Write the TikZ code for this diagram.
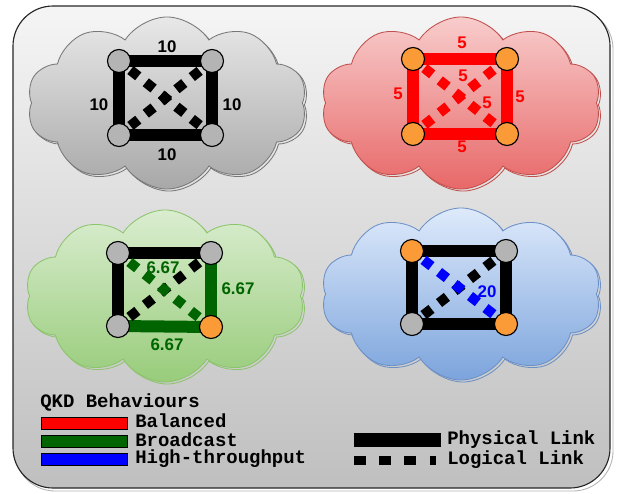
\documentclass[tikz,border=0pt]{standalone}
\usepackage{fontspec}
\usetikzlibrary{shapes.symbols}
\newfontfamily\labfont{Liberation Sans}
\newfontfamily\legfont{Liberation Mono}
\definecolor{nodegrey}{RGB}{180,180,180}
\definecolor{nodeorange}{RGB}{250,155,55}
\definecolor{qkdgreen}{RGB}{0,100,0}
\definecolor{lineGrey}{RGB}{120,120,120}
\definecolor{topGrey}{RGB}{232,232,232}
\definecolor{botGrey}{RGB}{168,168,168}
\definecolor{lineRed}{RGB}{192,80,77}
\definecolor{topRed}{RGB}{248,204,204}
\definecolor{botRed}{RGB}{232,104,104}
\definecolor{lineGreen}{RGB}{140,196,108}
\definecolor{topGreen}{RGB}{218,237,208}
\definecolor{botGreen}{RGB}{152,204,122}
\definecolor{lineBlue}{RGB}{108,144,198}
\definecolor{topBlue}{RGB}{222,234,251}
\definecolor{botBlue}{RGB}{124,164,220}
\pgfdeclarelayer{clouds}
\pgfdeclarelayer{links}
\pgfsetlayers{clouds,links,main}

\begin{document}
\begin{tikzpicture}[x=0.025cm, y=-0.025cm,
    cloudbox/.style={cloud, cloud puffs=10, cloud puff arc=115, aspect=1.6,
      minimum width=7cm, minimum height=4.3cm, line width=0.6pt},
    qnode/.style={circle, draw, line width=0.8pt, minimum size=0.575cm,
      inner sep=0pt, fill=nodegrey},
    qhot/.style={qnode, fill=nodeorange},
    physical/.style={line width=0.3cm},
    logical/.style={line width=0.25cm, dash pattern=on 0.25cm off 0.24cm, dash phase=0.125cm},
    lab/.style={font={\labfont\bfseries\fontsize{12}{14}\selectfont}, inner sep=0pt},
    leg/.style={font={\legfont\bfseries\fontsize{13.5}{16}\selectfont}, anchor=west, inner sep=0pt},
    legkey/.style={draw, line width=0.6pt, minimum width=2.15cm, minimum height=0.3cm, inner sep=0pt}]
  \useasboundingbox (0,0) rectangle (623,493);

  \begin{pgfonlayer}{clouds}
    \draw[gray!60, line width=0.6pt, rounded corners=1cm] (15,9) rectangle (613,491);
    \draw[gray!30!black, line width=0.8pt, rounded corners=1cm, top color=gray!8,
      bottom color=gray!50] (13,6) rectangle (610,488);
    \foreach \cname/\cx/\cy in {Grey/167/103, Red/461/103, Green/165/296, Blue/461/294}{
      \node[cloudbox, draw=line\cname] at (\cx+2,\cy+2) {};
      \node[cloudbox, draw=line\cname, top color=top\cname, bottom color=bot\cname]
        (cloud\cname) at (\cx,\cy) {};
    }
  \end{pgfonlayer}

  % grey cloud
  \node[qnode] (g1) at (119,61) {};
  \node[qnode] (g2) at (212,61) {};
  \node[qnode] (g3) at (119,135) {};
  \node[qnode] (g4) at (212,135) {};
  \node[lab] (gTop) at (167,47) {10};
  \node[lab] (gLeft) at (99,105) {10};
  \node[lab] (gRight) at (232,105) {10};
  \node[lab] (gBottom) at (167,155) {10};

  % red cloud
  \node[qhot] (r1) at (413,59) {};
  \node[qhot] (r2) at (507,59) {};
  \node[qhot] (r3) at (413,134) {};
  \node[qhot] (r4) at (507,134) {};
  \node[lab, red] (rTop) at (462,43) {5};
  \node[lab, red] (rLeft) at (398,94) {5};
  \node[lab, red] (rRight) at (520,97) {5};
  \node[lab, red] (rBottom) at (462,147) {5};
  \node[lab, red] (rDiagA) at (463,76) {5};
  \node[lab, red] (rDiagB) at (487,103) {5};

  % green cloud
  \node[qnode] (b1) at (118,253) {};
  \node[qnode] (b2) at (211,253) {};
  \node[qnode] (b3) at (118,326) {};
  \node[qhot] (b4) at (211,327) {};
  \node[lab, qkdgreen] (bTop) at (163,268) {6.67};
  \node[lab, qkdgreen] (bRight) at (238,289) {6.67};
  \node[lab, qkdgreen] (bBottom) at (167,345) {6.67};

  % blue cloud
  \node[qhot] (h1) at (412,251) {};
  \node[qnode] (h2) at (506,251) {};
  \node[qnode] (h3) at (412,324) {};
  \node[qhot] (h4) at (506,324) {};
  \node[lab, blue] (hDiag) at (487,292) {20};

  \begin{pgfonlayer}{links}
    \foreach \a/\b in {g1/g2, g2/g4, g4/g3, g3/g1, h1/h2, h2/h4, h4/h3, h3/h1, b1/b2, b1/b3}
      \draw[physical] (\a.center) -- (\b.center);
    \foreach \a/\b in {r1/r2, r2/r4, r4/r3, r3/r1}
      \draw[physical, red] (\a.center) -- (\b.center);
    \draw[physical, qkdgreen] (b2.center) -- (b4.center);
    \draw[physical, qkdgreen] (b3.center) -- (b4.center);
    \foreach \a/\b in {g1/g4, g3/g2, b3/b2, h3/h2}
      \draw[logical] (\a.center) -- (\b.center);
    \draw[logical, red] (r1.center) -- (r4.center);
    \draw[logical, red] (r3.center) -- (r2.center);
    \draw[logical, qkdgreen] (b1.center) -- (b4.center);
    \draw[logical, blue] (h1.center) -- (h4.center);
  \end{pgfonlayer}

  % legend
  \node[leg] (legTitle) at (40,402) {QKD Behaviours};
  \node[legkey, fill=red] (keyBal) at (84,423) {};
  \node[legkey, fill=qkdgreen] (keyBro) at (84,441.5) {};
  \node[legkey, fill=blue] (keyHigh) at (84,459.5) {};
  \node[leg] (txtBal) at (135,421) {Balanced};
  \node[leg] (txtBro) at (135,440) {Broadcast};
  \node[leg] (txtHigh) at (135,459) {High-throughput};
  \coordinate (physA) at (354,440);
  \coordinate (physB) at (441,440);
  \coordinate (logA) at (354,460.5);
  \coordinate (logB) at (436,460.5);
  \draw[line width=0.33cm] (physA) -- (physB);
  \draw[line width=0.24cm, dash pattern=on 0.3cm off 0.33cm] (logA) -- (logB);
  \node[leg] (txtPhys) at (447,440) {Physical Link};
  \node[leg] (txtLog) at (447,460) {Logical Link};
\end{tikzpicture}
\end{document}
